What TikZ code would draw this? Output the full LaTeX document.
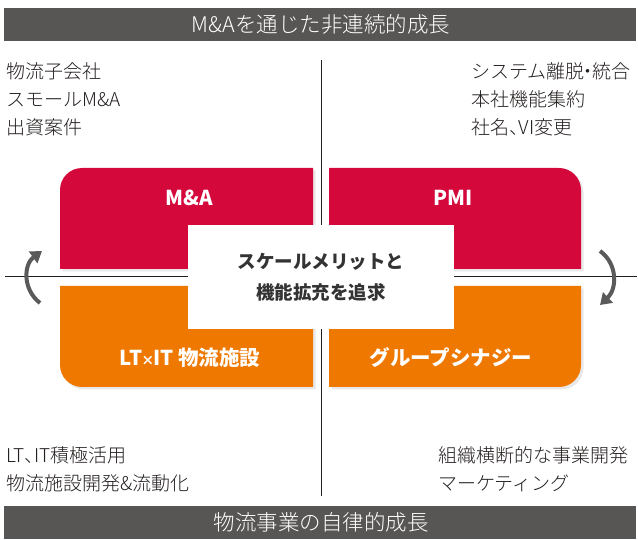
\documentclass[tikz,border=0pt]{standalone}
\usepackage{fontspec}
\setmainfont{Noto Sans CJK JP}
\newfontfamily\jplight{Noto Sans CJK JP}[UprightFont=* Light]
\usetikzlibrary{arrows.meta,shadows}
\definecolor{mared}{RGB}{213,8,60}
\definecolor{maorange}{RGB}{238,120,0}
\definecolor{bargrey}{RGB}{88,86,84}
\definecolor{arrowgrey}{RGB}{90,90,90}
\definecolor{textdark}{RGB}{35,30,30}
\definecolor{coretext}{RGB}{51,51,51}
\newcommand{\halfcomma}{\makebox[0.5em][l]{、}}
\newcommand{\halfdot}{\makebox[0.4em][c]{・}}
\newcommand{\smalltimes}{\makebox[0.55em][c]{\fontsize{13}{13}\selectfont ×}}

\begin{document}
\begin{tikzpicture}[x=1pt,y=1pt,
	boxlabel/.style={text=white,font=\fontsize{20.5}{20.5}\selectfont\bfseries},
	sidetext/.style={anchor=north west,inner sep=0pt,align=left,text=textdark,font=\jplight\fontsize{19}{28}\selectfont},
	bartext/.style={text=white,font=\jplight\fontsize{21.5}{21.5}\selectfont},
	turn/.style={line width=4pt,color=arrowgrey,-{Triangle[length=11pt,width=14pt]}},
	boxshadow/.style={drop shadow={shadow xshift=2.5pt,shadow yshift=-2.5pt,opacity=0.18}}]
			%%%%% START %%%%%
			
			\useasboundingbox (0,0) rectangle (638,539);
			
			\fill[bargrey] (4,498) rectangle (636,531);
			\node[bartext] (topbar) at (321,514.5) {M\&Aを通じた非連続的成長};
			\fill[bargrey] (4,0) rectangle (636,33);
			\node[bartext] (bottombar) at (321,16.5) {物流事業の自律的成長};
			
			\draw[line width=1pt,color=textdark] (321,43) -- (321,479);
			\draw[line width=1pt,color=textdark] (5,262) -- (637,262);
			
			\fill[mared,boxshadow] (313,270) -- (60,270) -- (60,349) arc (180:90:22) -- (313,371) -- cycle;
			\fill[mared,boxshadow] (329,270) -- (329,371) -- (559,371) arc (90:0:22) -- (581,270) -- cycle;
			\fill[maorange,boxshadow] (313,253) -- (313,152) -- (82,152) arc (270:180:22) -- (60,253) -- cycle;
			\fill[maorange,boxshadow] (329,253) -- (581,253) -- (581,174) arc (0:-90:22) -- (329,152) -- cycle;
			
			\node[boxlabel] (ma) at (189,341) {M\&A};
			\node[boxlabel] (pmi) at (453,341) {PMI};
			\node[boxlabel] (ltit) at (190,181) {LT\smalltimes IT\ 物流施設};
			\node[boxlabel] (synergy) at (451,181) {グループシナジー};
			
			\fill[white] (188,210) rectangle (454,314);
			\node[align=center,text=coretext,font=\fontsize{18.5}{31}\selectfont\bfseries] (core) at (321,262) {スケールメリットと\\機能拡充を追求};
			
			\node[sidetext] (mainleft) at (6,477) {物流子会社\\スモールM\&A\\出資案件};
			\node[sidetext] (mainright) at (471,477) {システム離脱\halfdot 統合\\本社機能集約\\社名\halfcomma VI変更};
			\node[sidetext] (ownleft) at (6,93) {LT\halfcomma IT積極活用\\物流施設開発\&流動化};
			\node[sidetext] (ownright) at (438,93) {組織横断的な事業開発\\マーケティング};
			
			\draw[turn] (40,236) .. controls (22,250) and (24,275) .. (42,288);
			\draw[turn] (600,288) .. controls (618,275) and (617,250) .. (600,234);
			
			%%%%% END %%%%%
\end{tikzpicture}
\end{document}
